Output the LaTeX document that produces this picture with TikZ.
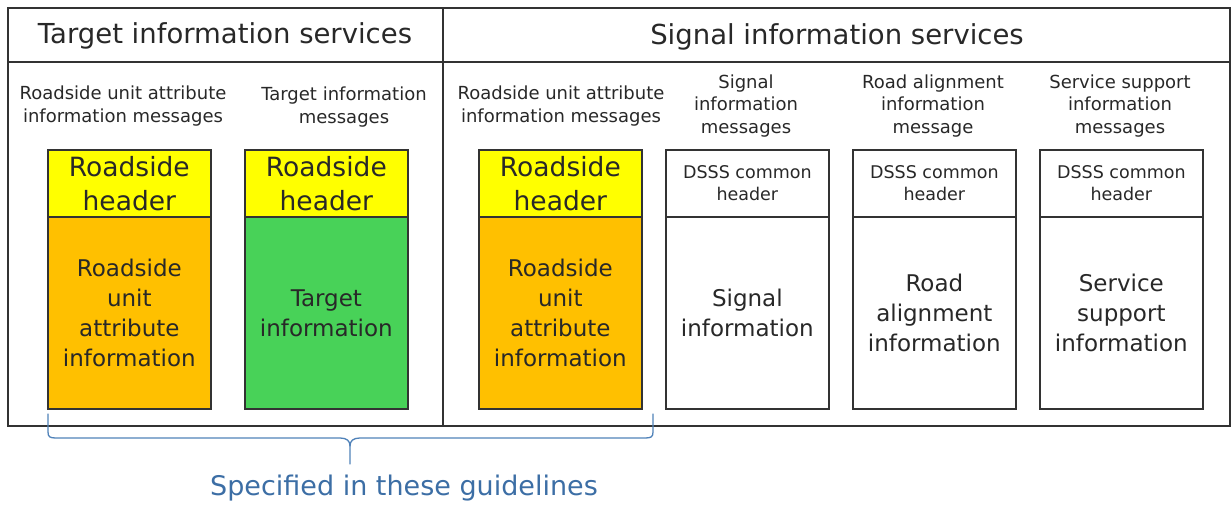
\documentclass[tikz,border=0pt]{standalone}
\usepackage{fontspec}
\setmainfont{DejaVu Sans}
\definecolor{hdryellow}{RGB}{255,255,0}
\definecolor{bodyorange}{RGB}{255,192,0}
\definecolor{bodygreen}{RGB}{72,210,88}
\definecolor{framegray}{RGB}{50,50,50}
\definecolor{braceblue}{RGB}{80,130,185}
\definecolor{textblue}{RGB}{60,110,165}
\definecolor{txt}{RGB}{40,40,40}
\begin{document}
\begin{tikzpicture}[x=1pt,y=-1pt,
  frame/.style={draw=framegray,line width=1.8pt},
  hdr/.style={draw=black!80,line width=1.7pt,minimum width=163pt,minimum height=67pt,anchor=north west,inner sep=0pt,align=center,text=txt},
  bodybox/.style={draw=black!80,line width=1.7pt,minimum width=163pt,minimum height=192pt,anchor=north west,inner sep=0pt,align=center,text=txt},
  bigtxt/.style={font=\fontsize{26.5}{34}\selectfont},
  dssstxt/.style={font=\fontsize{17.5}{22}\selectfont},
  bodytxt/.style={font=\fontsize{23}{30}\selectfont},
  sublabel/.style={align=center,inner sep=0pt,text=txt,font=\fontsize{18}{22.5}\selectfont},
  title/.style={inner sep=0pt,text=txt,font=\fontsize{27.5}{30}\selectfont}]
\useasboundingbox (0,0) rectangle (1232,505);
% frame
\draw[frame] (8,8) rectangle (1230,426);
\draw[frame] (8,62) -- (1230,62);
\draw[frame] (443,8) -- (443,426);
% titles
\node[title] (t1) at (225,36) {Target information services};
\node[title] (t2) at (837,37) {Signal information services};
% sublabels
\node[sublabel] (s1) at (123,106) {Roadside unit attribute\\information messages};
\node[sublabel] (s2) at (344,107) {Target information\\messages};
\node[sublabel] (s3) at (561,106) {Roadside unit attribute\\information messages};
\node[sublabel] (s4) at (746,106) {Signal\\information\\messages};
\node[sublabel] (s5) at (933,106) {Road alignment\\information\\message};
\node[sublabel] (s6) at (1120,106) {Service support\\information\\messages};
% boxes
\node[hdr,fill=hdryellow,bigtxt] (h1) at (47,149) {Roadside\\header};
\node[bodybox,fill=bodyorange,bodytxt] (b1) at (47,216) {Roadside\\unit\\attribute\\information};
\node[hdr,fill=hdryellow,bigtxt] (h2) at (244,149) {Roadside\\header};
\node[bodybox,fill=bodygreen,bodytxt] (b2) at (244,216) {Target\\information};
\node[hdr,fill=hdryellow,bigtxt] (h3) at (478,149) {Roadside\\header};
\node[bodybox,fill=bodyorange,bodytxt] (b3) at (478,216) {Roadside\\unit\\attribute\\information};
\node[hdr,fill=white,dssstxt] (h4) at (665,149) {DSSS common\\header};
\node[bodybox,fill=white,bodytxt] (b4) at (665,216) {Signal\\information};
\node[hdr,fill=white,dssstxt] (h5) at (852,149) {DSSS common\\header};
\node[bodybox,fill=white,bodytxt] (b5) at (852,216) {Road\\alignment\\information};
\node[hdr,fill=white,dssstxt] (h6) at (1039,149) {DSSS common\\header};
\node[bodybox,fill=white,bodytxt] (b6) at (1039,216) {Service\\support\\information};
% brace
\coordinate (bl) at (48,414);
\coordinate (br) at (653,414);
\coordinate (tip) at (350,464);
\draw[braceblue,line width=1.3pt,line cap=round]
  (bl) -- (48,432) .. controls (48,437) and (50,438) .. (56,438)
  -- (340,438) .. controls (347,438) and (350,441) .. (350,446) -- (tip);
\draw[braceblue,line width=1.3pt,line cap=round]
  (br) -- (653,432) .. controls (653,437) and (651,438) .. (645,438)
  -- (360,438) .. controls (353,438) and (350,441) .. (350,446);
\node[inner sep=0pt,text=textblue,font=\fontsize{27}{30}\selectfont] (spec) at (404,488) {Specified in these guidelines};
\end{tikzpicture}
\end{document}
